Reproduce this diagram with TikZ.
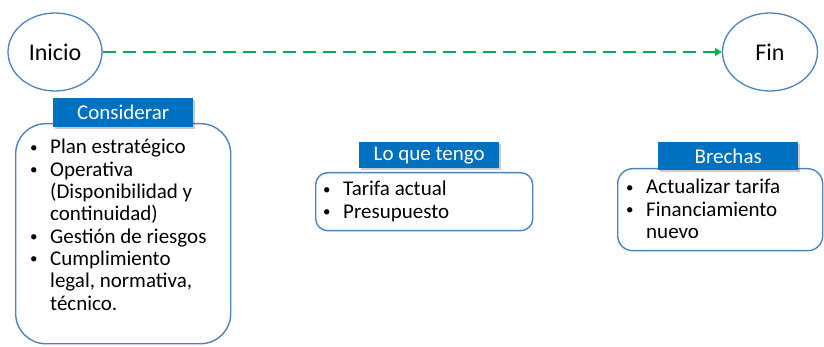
\documentclass[tikz,border=0pt]{standalone}
\usepackage{fontspec}
\setmainfont{Carlito}
\usepackage{xcolor}
\usetikzlibrary{arrows.meta, positioning, shapes.geometric, shadows}

\definecolor{lineblue}{RGB}{79,129,189}
\definecolor{headblue}{RGB}{0,112,192}
\definecolor{arrowgreen}{RGB}{0,176,80}

\tikzset{
    etapa/.style={ellipse, draw=lineblue, line width=1.3pt, fill=white,
        minimum width=94pt, minimum height=78pt, inner sep=0pt,
        font=\fontsize{24}{26}\selectfont},
    caja/.style={draw=lineblue, line width=1.4pt, anchor=north west, inner sep=0pt},
    titulo/.style={fill=headblue, text=white, anchor=north west, inner sep=0pt,
        minimum width=140pt, font=\fontsize{21}{22}\selectfont,
        drop shadow={shadow xshift=1.5pt, shadow yshift=-1.5pt, fill=black, opacity=0.2}},
    lista/.style={anchor=base west, inner sep=0pt, align=left,
        font=\fontsize{21}{22.3}\selectfont}
}
\newcommand{\bul}{\makebox[21pt][l]{\hspace{1pt}\raisebox{1.5pt}{\fontsize{15}{15}\selectfont\textbullet}}}

\begin{document}
\begin{tikzpicture}[x=1pt, y=-1pt]
            \useasboundingbox (0,0) rectangle (824,347);

            % 开始与结束
            \node[etapa] (inicio) at (55,52) {Inicio};
            \node[etapa, minimum width=95pt] (fin) at (770,52) {Fin};
            \draw[arrowgreen, line width=2.4pt, dash pattern=on 13pt off 7pt,
                -{Triangle[length=7pt, width=8pt]}] (inicio) -- (fin);

            % 三个框
            \node[caja, rounded corners=30pt, minimum width=215pt, minimum height=220pt]
                (considerarBox) at (15,123) {};
            \node[caja, rounded corners=12pt, minimum width=217pt, minimum height=58pt]
                (tengoBox) at (315,172) {};
            \node[caja, rounded corners=15pt, minimum width=205pt, minimum height=82pt]
                (brechasBox) at (617,168) {};

            % 标题
            \node[titulo, minimum height=29pt] (considerar) at (53,98) {Considerar};
            \node[titulo, minimum height=26pt] (tengo) at (359,142) {Lo que tengo};
            \node[titulo, minimum height=28pt] (brechas) at (658,142) {Brechas};

            % 内容
            \node[lista] (considerarText) at (29,154) {%
                \begin{tabular}[t]{@{}l@{}}
                \bul Plan estratégico\\
                \bul Operativa\\
                \hspace{21pt}(Disponibilidad y\\
                \hspace{21pt}continuidad)\\
                \bul Gestión de riesgos\\
                \bul Cumplimiento\\
                \hspace{21pt}legal, normativa,\\
                \hspace{21pt}técnico.
                \end{tabular}};
            \node[lista] (tengoText) at (322,196) {%
                \begin{tabular}[t]{@{}l@{}}
                \bul Tarifa actual\\
                \bul Presupuesto
                \end{tabular}};
            \node[lista] (brechasText) at (625,194) {%
                \begin{tabular}[t]{@{}l@{}}
                \bul Actualizar tarifa\\
                \bul Financiamiento\\
                \hspace{21pt}nuevo
                \end{tabular}};
        \end{tikzpicture}
\end{document}
